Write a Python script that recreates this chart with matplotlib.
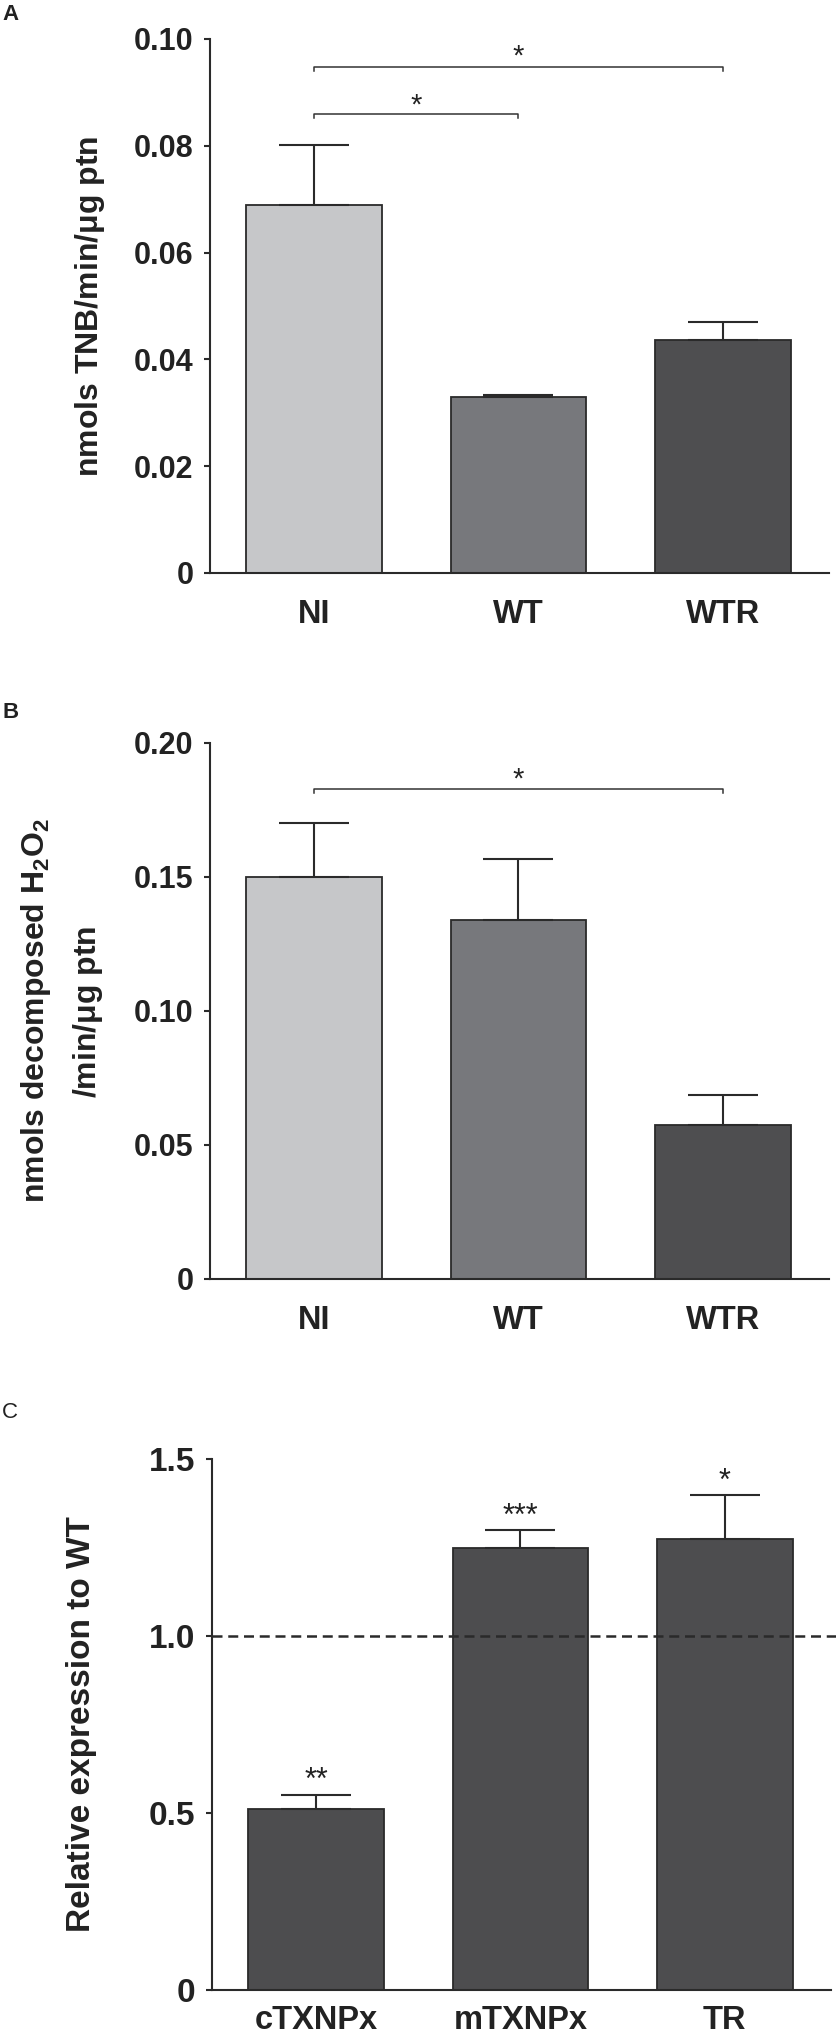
import matplotlib
matplotlib.use("Agg")
import matplotlib.pyplot as plt
import numpy as np

plt.rcParams['font.family'] = ['Liberation Sans', 'DejaVu Sans']
plt.rcParams['font.weight'] = 'bold'
plt.rcParams['mathtext.fontset'] = 'custom'
plt.rcParams['mathtext.rm'] = 'Liberation Sans'
plt.rcParams['mathtext.it'] = 'Liberation Sans:italic'
plt.rcParams['mathtext.bf'] = 'Liberation Sans:bold'

# ---------------- data ----------------
groups_ab = ["NI", "WT", "WTR"]
colors_ab = ["#c6c7c9", "#77787c", "#4e4e50"]

a_values = [0.0690, 0.0329, 0.0436]
a_err = [0.0111, 0.0005, 0.0034]
a_ticks = [0, 0.02, 0.04, 0.06, 0.08, 0.10]
a_ticklabels = ["0", "0.02", "0.04", "0.06", "0.08", "0.10"]

b_values = [0.1500, 0.1338, 0.0574]
b_err = [0.0200, 0.0229, 0.0112]
b_ticks = [0, 0.05, 0.10, 0.15, 0.20]
b_ticklabels = ["0", "0.05", "0.10", "0.15", "0.20"]

c_groups = ["cTXNPx", "mTXNPx", "TR"]
c_values = [0.510, 1.249, 1.273]
c_err = [0.042, 0.050, 0.125]
c_stars = ["**", "***", "*"]
c_ticks = [0, 0.5, 1.0, 1.5]
c_ticklabels = ["0", "0.5", "1.0", "1.5"]

# ---------------- figure ----------------
W, H = 836, 2043
fig = plt.figure(figsize=(W / 100, H / 100), dpi=100)

dark = "#2a2a2a"

def px_axes(left, right, top, bottom):
    return fig.add_axes([left / W, 1 - bottom / H, (right - left) / W, (bottom - top) / H])

def style(ax, ticks, labels, ylim, ysize, xsize, xpad):
    ax.set_ylim(*ylim)
    ax.set_xlim(-0.51, 2.52)
    for s in ["top", "right"]:
        ax.spines[s].set_visible(False)
    for s in ["left", "bottom"]:
        ax.spines[s].set_linewidth(1.5)
        ax.spines[s].set_color(dark)
    ax.set_yticks(ticks)
    ax.set_yticklabels(labels)
    ax.tick_params(axis="y", direction="out", length=4, width=1.5, color=dark,
                   pad=8, labelsize=ysize, labelcolor="#222222")
    ax.tick_params(axis="x", length=0, pad=xpad, labelsize=xsize, labelcolor="#222222")
    for t in ax.get_yticklabels() + ax.get_xticklabels():
        t.set_fontweight("bold")

def bars(ax, cats, vals, errs, cols):
    x = np.arange(len(cats))
    ax.bar(x, vals, width=0.665, color=cols, edgecolor=dark, linewidth=1.3, zorder=2)
    ax.errorbar(x, vals, yerr=[np.zeros(len(vals)), errs], fmt="none",
                ecolor=dark, elinewidth=1.5, capsize=25, capthick=1.5, zorder=3)
    ax.set_xticks(x)
    ax.set_xticklabels(cats)
    return x

def bracket(ax, x0, x1, y, drop, star_x, star_dy, size=21):
    ax.plot([x0, x0, x1, x1], [y - drop, y, y, y - drop], color="#333333", lw=1.1,
            clip_on=False, zorder=4)
    ax.text(star_x, y + star_dy, "*", ha="center", va="baseline", fontsize=size,
            fontweight="normal", color="#222222")

# Panel A
axA = px_axes(210, 829, 39, 573)
bars(axA, groups_ab, a_values, a_err, colors_ab)
style(axA, a_ticks, a_ticklabels, (0, 0.10), 22, 23.5, 19)
bracket(axA, 0, 2, 0.0948, 0.0008, 1.0, 0.0005)
bracket(axA, 0, 1, 0.0860, 0.0008, 0.5, 0.0000)
fig.text(90 / W, 1 - 306 / H, r"nmols TNB/min/$\mathrm{\mu}$g ptn", rotation=90,
         ha="center", va="center", fontsize=23, fontweight="bold", color="#222222")
fig.text(2 / W, 1 - 15 / H, "A", ha="left", va="center", fontsize=16,
         fontweight="bold", color="#222222")

# Panel B
axB = px_axes(210, 829, 743, 1279)
bars(axB, groups_ab, b_values, b_err, colors_ab)
style(axB, b_ticks, b_ticklabels, (0, 0.20), 22, 23.5, 19)
bracket(axB, 0, 2, 0.1828, 0.0016, 1.0, 0.0004)
fig.text(36 / W, 1 - 1011 / H, r"nmols decomposed H$\mathrm{_2}$O$\mathrm{_2}$",
         rotation=90, ha="center", va="center", fontsize=23, fontweight="bold",
         color="#222222")
fig.text(88 / W, 1 - 1012 / H, r"/min/$\mathrm{\mu}$g ptn", rotation=90,
         ha="center", va="center", fontsize=23, fontweight="bold", color="#222222")
fig.text(2 / W, 1 - 713 / H, "B", ha="left", va="center", fontsize=16,
         fontweight="bold", color="#222222")

# Panel C
axC = px_axes(212, 831, 1459, 1990)
xc = bars(axC, c_groups, c_values, c_err, ["#4d4d4f"] * 3)
style(axC, c_ticks, c_ticklabels, (0, 1.5), 24, 23.5, 11)
axC.axhline(1.0, xmin=0, xmax=1.01, color="#2a2a2a", lw=1.8,
            linestyle=(0, (4, 2.3)), clip_on=False, zorder=5)
for xi, v, e, s in zip(xc, c_values, c_err, c_stars):
    axC.text(xi, v + e + 0.015, s, ha="center", va="baseline", fontsize=22,
             fontweight="normal", color="#222222")
fig.text(82 / W, 1 - 1724 / H, "Relative expression to WT", rotation=90,
         ha="center", va="center", fontsize=24, fontweight="bold", color="#222222")
fig.text(2 / W, 1 - 1413 / H, "C", ha="left", va="center", fontsize=16,
         fontweight="normal", color="#222222")

fig.savefig("out.png", dpi=100)
